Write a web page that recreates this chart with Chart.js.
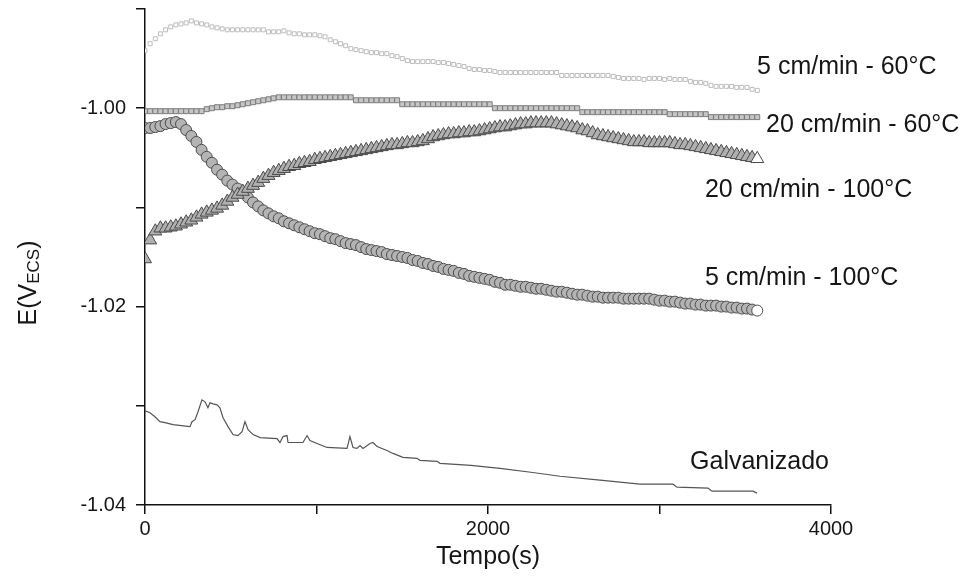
<!DOCTYPE html>
<html>
<head>
<meta charset="utf-8">
<title>Potencial de corrosão x tempo</title>
<script src="https://cdn.jsdelivr.net/npm/chart.js@4.4.1/dist/chart.umd.min.js"></script>
<style>
  html, body { margin: 0; padding: 0; background: #fff; }
  canvas { display: block; }
</style>
</head>
<body>
<canvas id="grafico" width="965" height="586"></canvas>
<script>
// tempos de leitura (s), uma leitura a cada 30 s
const passo = 30;
const tempo = Array.from({ length: 120 }, (_, i) => i * passo);

// E (V ECS) por condição de ensaio
const e5cm60 = [
  -0.9942, -0.9935, -0.9930, -0.9925, -0.9921, -0.9918, -0.9916, -0.9915, -0.9914, -0.9912,
  -0.9914, -0.9915, -0.9916, -0.9918, -0.9919, -0.9920, -0.9921, -0.9921, -0.9921, -0.9921,
  -0.9921, -0.9921, -0.9921, -0.9921, -0.9923, -0.9923, -0.9923, -0.9922, -0.9924, -0.9925,
  -0.9925, -0.9926, -0.9926, -0.9926, -0.9927, -0.9928, -0.9931, -0.9933, -0.9935, -0.9937,
  -0.9940, -0.9941, -0.9942, -0.9943, -0.9944, -0.9944, -0.9945, -0.9945, -0.9947, -0.9948,
  -0.9950, -0.9952, -0.9953, -0.9953, -0.9953, -0.9953, -0.9953, -0.9954, -0.9954, -0.9955,
  -0.9956, -0.9957, -0.9958, -0.9960, -0.9961, -0.9961, -0.9962, -0.9962, -0.9963, -0.9964,
  -0.9964, -0.9964, -0.9964, -0.9964, -0.9964, -0.9964, -0.9964, -0.9964, -0.9964, -0.9964,
  -0.9964, -0.9967, -0.9967, -0.9967, -0.9967, -0.9967, -0.9967, -0.9967, -0.9967, -0.9967,
  -0.9967, -0.9968, -0.9969, -0.9970, -0.9970, -0.9970, -0.9970, -0.9971, -0.9970, -0.9970,
  -0.9970, -0.9971, -0.9970, -0.9971, -0.9971, -0.9971, -0.9973, -0.9974, -0.9974, -0.9975,
  -0.9977, -0.9978, -0.9978, -0.9978, -0.9978, -0.9979, -0.9979, -0.9979, -0.9981, -0.9982
];

const e20cm60 = [
  -1.0003, -1.0003, -1.0003, -1.0003, -1.0003, -1.0003, -1.0003, -1.0003, -1.0003, -1.0003,
  -1.0003, -1.0003, -1.0001, -1.0000, -0.9999, -0.9999, -0.9998, -0.9998, -0.9997, -0.9996,
  -0.9995, -0.9994, -0.9993, -0.9992, -0.9991, -0.9990, -0.9989, -0.9989, -0.9989, -0.9989,
  -0.9989, -0.9989, -0.9989, -0.9989, -0.9989, -0.9989, -0.9989, -0.9989, -0.9989, -0.9989,
  -0.9989, -0.9992, -0.9992, -0.9992, -0.9992, -0.9992, -0.9992, -0.9992, -0.9992, -0.9992,
  -0.9996, -0.9996, -0.9996, -0.9996, -0.9996, -0.9996, -0.9996, -0.9996, -0.9996, -0.9996,
  -0.9996, -0.9996, -0.9996, -0.9996, -0.9996, -0.9996, -0.9996, -0.9996, -1.0000, -1.0000,
  -1.0000, -1.0000, -1.0000, -1.0000, -1.0000, -1.0000, -1.0000, -1.0000, -1.0000, -1.0000,
  -1.0000, -1.0000, -1.0000, -1.0000, -1.0000, -1.0004, -1.0004, -1.0004, -1.0004, -1.0004,
  -1.0004, -1.0004, -1.0004, -1.0004, -1.0004, -1.0004, -1.0004, -1.0004, -1.0004, -1.0004,
  -1.0004, -1.0004, -1.0006, -1.0006, -1.0006, -1.0006, -1.0006, -1.0006, -1.0006, -1.0006,
  -1.0009, -1.0009, -1.0009, -1.0009, -1.0009, -1.0009, -1.0009, -1.0009, -1.0009, -1.0009
];

const e20cm100 = [
  -1.0152, -1.0133, -1.0124, -1.0121, -1.0121, -1.0120, -1.0119, -1.0117, -1.0115, -1.0113,
  -1.0110, -1.0107, -1.0105, -1.0103, -1.0101, -1.0098, -1.0094, -1.0090, -1.0087, -1.0084,
  -1.0081, -1.0078, -1.0075, -1.0071, -1.0068, -1.0065, -1.0063, -1.0061, -1.0059, -1.0058,
  -1.0056, -1.0055, -1.0054, -1.0052, -1.0051, -1.0050, -1.0049, -1.0048, -1.0047, -1.0046,
  -1.0045, -1.0044, -1.0043, -1.0042, -1.0041, -1.0040, -1.0039, -1.0038, -1.0037, -1.0037,
  -1.0036, -1.0035, -1.0035, -1.0034, -1.0033, -1.0031, -1.0029, -1.0028, -1.0027, -1.0026,
  -1.0026, -1.0025, -1.0025, -1.0024, -1.0024, -1.0023, -1.0022, -1.0021, -1.0020, -1.0019,
  -1.0019, -1.0018, -1.0017, -1.0016, -1.0016, -1.0015, -1.0015, -1.0015, -1.0015, -1.0015,
  -1.0016, -1.0017, -1.0018, -1.0019, -1.0020, -1.0022, -1.0023, -1.0025, -1.0027, -1.0028,
  -1.0029, -1.0030, -1.0031, -1.0032, -1.0033, -1.0034, -1.0034, -1.0034, -1.0035, -1.0035,
  -1.0035, -1.0035, -1.0035, -1.0036, -1.0037, -1.0037, -1.0038, -1.0039, -1.0040, -1.0041,
  -1.0042, -1.0043, -1.0044, -1.0045, -1.0046, -1.0047, -1.0048, -1.0049, -1.0050, -1.0051
];

const e5cm100 = [
  -1.0020, -1.0020, -1.0019, -1.0018, -1.0016, -1.0015, -1.0014, -1.0016, -1.0022, -1.0028,
  -1.0034, -1.0042, -1.0049, -1.0055, -1.0062, -1.0067, -1.0073, -1.0077, -1.0081, -1.0085,
  -1.0090, -1.0095, -1.0099, -1.0103, -1.0106, -1.0109, -1.0111, -1.0114, -1.0116, -1.0118,
  -1.0120, -1.0122, -1.0124, -1.0126, -1.0127, -1.0129, -1.0131, -1.0132, -1.0134, -1.0136,
  -1.0137, -1.0138, -1.0140, -1.0142, -1.0143, -1.0144, -1.0145, -1.0147, -1.0148, -1.0149,
  -1.0150, -1.0151, -1.0153, -1.0154, -1.0156, -1.0157, -1.0159, -1.0160, -1.0162, -1.0163,
  -1.0164, -1.0166, -1.0167, -1.0169, -1.0170, -1.0171, -1.0172, -1.0173, -1.0175, -1.0176,
  -1.0178, -1.0178, -1.0179, -1.0180, -1.0180, -1.0181, -1.0182, -1.0182, -1.0183, -1.0184,
  -1.0185, -1.0185, -1.0186, -1.0187, -1.0188, -1.0188, -1.0189, -1.0190, -1.0190, -1.0191,
  -1.0191, -1.0191, -1.0191, -1.0192, -1.0192, -1.0192, -1.0192, -1.0192, -1.0192, -1.0193,
  -1.0194, -1.0194, -1.0195, -1.0195, -1.0196, -1.0197, -1.0197, -1.0198, -1.0198, -1.0199,
  -1.0199, -1.0199, -1.0200, -1.0200, -1.0201, -1.0201, -1.0202, -1.0202, -1.0203, -1.0204
];

const tempoGalv = [
  0, 29, 58, 87, 117, 163, 262, 274, 292, 309, 332, 350, 367, 379, 397, 420, 437, 455,
  484, 513, 542, 566, 583, 601, 630, 671, 770, 787, 805, 828, 834, 921, 945, 962, 1003,
  1061, 1178, 1195, 1213, 1236, 1254, 1271, 1312, 1329, 1353, 1411, 1446, 1504, 1586,
  1603, 1703, 1720, 1900, 2070, 2250, 2420, 2653, 2886, 3079, 3102, 3283, 3306, 3545, 3569
];
const eGalv = [
  -1.0305, -1.0307, -1.0311, -1.0316, -1.0317, -1.0319, -1.0321, -1.0316, -1.0314, -1.0306,
  -1.0294, -1.0296, -1.0302, -1.0297, -1.0298, -1.0299, -1.0302, -1.0312, -1.0321, -1.0329,
  -1.0330, -1.0326, -1.0316, -1.0324, -1.0329, -1.0332, -1.0333, -1.0337, -1.0331, -1.0330,
  -1.0337, -1.0337, -1.0330, -1.0335, -1.0338, -1.0342, -1.0343, -1.0331, -1.0342, -1.0343,
  -1.0340, -1.0343, -1.0338, -1.0337, -1.0341, -1.0345, -1.0348, -1.0352, -1.0353, -1.0355,
  -1.0356, -1.0358, -1.0360, -1.0363, -1.0367, -1.0371, -1.0375, -1.0379, -1.0379, -1.0382,
  -1.0383, -1.0386, -1.0386, -1.0388
];

// rótulos das curvas, ancorados em (tempo, E)
const rotulos = [
  { texto: '5 cm/min - 60°C', t: 3569, e: -0.99587 },
  { texto: '20 cm/min - 60°C', t: 3621, e: -1.00171 },
  { texto: '20 cm/min - 100°C', t: 3265, e: -1.00826 },
  { texto: '5 cm/min - 100°C', t: 3265, e: -1.01713 },
  { texto: 'Galvanizado', t: 3178, e: -1.03567 }
];

const fonte = '"Liberation Sans", Arial, sans-serif';

function pontos(ts, es) {
  return ts.map((t, i) => ({ x: t, y: es[i] }));
}

// ultimo marcador fica vazado
function ultimoBranco(cor) {
  return ctx => ctx.dataIndex === ctx.dataset.data.length - 1 ? '#ffffff' : cor;
}

const textos = {
  id: 'textos',
  afterDraw(chart) {
    const { ctx, chartArea, scales: { x, y } } = chart;
    ctx.save();
    ctx.fillStyle = '#161616';
    ctx.font = '25px ' + fonte;
    ctx.textBaseline = 'middle';
    ctx.textAlign = 'left';
    rotulos.forEach(r => {
      ctx.fillText(r.texto, x.getPixelForValue(r.t), y.getPixelForValue(r.e));
    });

    // Tempo(s)
    ctx.textAlign = 'center';
    ctx.fillText('Tempo(s)', (chartArea.left + chartArea.right) / 2, 557);

    // E(V ECS) na vertical, ECS em subscrito
    const grande = '25px ' + fonte;
    const peq = '17px ' + fonte;
    ctx.font = grande;
    const w1 = ctx.measureText('E(V').width;
    const w3 = ctx.measureText(')').width;
    ctx.font = peq;
    const w2 = ctx.measureText('ECS').width;
    const total = w1 + w2 + w3;
    ctx.translate(27, 283);
    ctx.rotate(-Math.PI / 2);
    ctx.textAlign = 'left';
    ctx.textBaseline = 'alphabetic';
    let px = -total / 2;
    ctx.font = grande;
    ctx.fillText('E(V', px, 9);
    px += w1;
    ctx.font = peq;
    ctx.fillText('ECS', px, 12);
    px += w2;
    ctx.font = grande;
    ctx.fillText(')', px, 9);
    ctx.restore();
  }
};

new Chart(document.getElementById('grafico'), {
  type: 'line',
  data: {
    datasets: [
      {
        label: '20 cm/min - 100°C',
        data: pontos(tempo, e20cm100),
        showLine: false,
        pointStyle: 'triangle',
        pointRadius: 7.5,
        pointBorderWidth: 1,
        pointBorderColor: '#4a4a4a',
        pointBackgroundColor: ultimoBranco('#b0b0b0'),
        order: 1
      },
      {
        label: '5 cm/min - 100°C',
        data: pontos(tempo, e5cm100),
        showLine: false,
        pointStyle: 'circle',
        pointRadius: 5.5,
        pointBorderWidth: 1,
        pointBorderColor: '#4d4d4d',
        pointBackgroundColor: ultimoBranco('#b4b4b4'),
        order: 2
      },
      {
        label: '20 cm/min - 60°C',
        data: pontos(tempo, e20cm60),
        showLine: false,
        pointStyle: 'rect',
        pointRadius: 3.5,
        pointBorderWidth: 1,
        pointBorderColor: '#7c7c7c',
        pointBackgroundColor: '#c6c6c6',
        order: 3
      },
      {
        label: '5 cm/min - 60°C',
        data: pontos(tempo, e5cm60),
        showLine: false,
        pointStyle: 'rect',
        pointRadius: 2.8,
        pointBorderWidth: 1,
        pointBorderColor: '#bcbcbc',
        pointBackgroundColor: '#ffffff',
        order: 4
      },
      {
        label: 'Galvanizado',
        data: pontos(tempoGalv, eGalv),
        borderColor: '#555555',
        borderWidth: 1.2,
        pointRadius: 0,
        tension: 0,
        order: 5
      }
    ]
  },
  options: {
    responsive: false,
    animation: false,
    layout: { padding: { top: 9, right: 134, left: 0, bottom: 0 } },
    plugins: {
      legend: { display: false },
      tooltip: { enabled: false }
    },
    scales: {
      x: {
        type: 'linear',
        min: 0,
        max: 4000,
        ticks: {
          stepSize: 1000,
          autoSkip: false,
          maxRotation: 0,
          padding: 3,
          color: '#161616',
          font: { family: fonte, size: 20 },
          callback: v => (v % 2000 === 0 ? String(v) : '')
        },
        grid: { drawOnChartArea: false, tickLength: 9, color: '#111', lineWidth: 1.5 },
        border: { color: '#111', width: 1.5 },
        afterFit: s => { s.height = 81; s.paddingLeft = 0; s.paddingRight = 0; }
      },
      y: {
        min: -1.04,
        max: -0.99,
        ticks: {
          stepSize: 0.01,
          autoSkip: false,
          padding: 10,
          color: '#161616',
          font: { family: fonte, size: 20 },
          callback: v => (Math.round(v * 100) % 2 === 0 ? v.toFixed(2) : '')
        },
        grid: { drawOnChartArea: false, tickLength: 9, color: '#111', lineWidth: 1.5 },
        border: { color: '#111', width: 1.5 },
        afterFit: s => { s.width = 145; s.paddingTop = 0; s.paddingBottom = 0; }
      }
    }
  },
  plugins: [textos]
});
</script>
</body>
</html>
